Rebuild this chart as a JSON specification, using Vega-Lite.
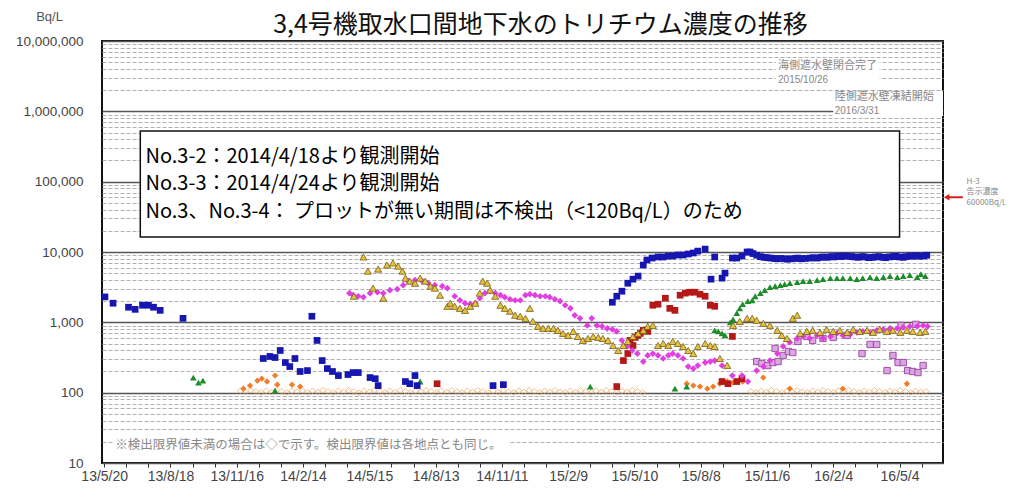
{
  "$schema": "https://vega.github.io/schema/vega-lite/v6.json",
  "width": 841,
  "height": 422,
  "autosize": {"type": "none"},
  "padding": {"left": 102, "top": 41, "right": 83, "bottom": 39},
  "background": "white",
  "config": {"view": {"stroke": "#111", "strokeWidth": 2}, "font": "Liberation Sans"},
  "title": {"text": "3,4号機取水口間地下水のトリチウム濃度の推移", "font": "Noto Sans CJK JP", "fontSize": 25, "fontWeight": "normal", "color": "#111", "anchor": "middle", "frame": "group", "dx": 18, "offset": -48, "baseline": "alphabetic"},
  "datasets": {
    "blue": [
      {"date": "2013/05/21", "value": 2300}, {"date": "2013/06/01", "value": 1870}, {"date": "2013/06/22", "value": 1640}, {"date": "2013/07/01", "value": 1530}, {"date": "2013/07/11", "value": 1750}, {"date": "2013/07/19", "value": 1750}, {"date": "2013/07/26", "value": 1640}, {"date": "2013/08/04", "value": 1480}, {"date": "2013/09/04", "value": 1140},
      {"date": "2013/12/22", "value": 306}, {"date": "2013/12/31", "value": 327}, {"date": "2014/01/07", "value": 316}, {"date": "2014/01/14", "value": 398}, {"date": "2014/01/21", "value": 268}, {"date": "2014/01/27", "value": 235}, {"date": "2014/02/03", "value": 306}, {"date": "2014/02/10", "value": 200}, {"date": "2014/02/20", "value": 206}, {"date": "2014/02/26", "value": 1220}, {"date": "2014/03/05", "value": 553}, {"date": "2014/03/12", "value": 286}, {"date": "2014/03/19", "value": 220}, {"date": "2014/03/26", "value": 200}, {"date": "2014/04/03", "value": 175}, {"date": "2014/04/16", "value": 181}, {"date": "2014/04/23", "value": 193}, {"date": "2014/04/30", "value": 193}, {"date": "2014/05/16", "value": 164}, {"date": "2014/05/23", "value": 158}, {"date": "2014/05/27", "value": 126}, {"date": "2014/07/03", "value": 144}, {"date": "2014/07/09", "value": 134}, {"date": "2014/07/16", "value": 175}, {"date": "2014/07/19", "value": 126}, {"date": "2014/10/30", "value": 126}, {"date": "2014/11/13", "value": 130},
      {"date": "2015/04/10", "value": 1930}, {"date": "2015/04/16", "value": 2350}, {"date": "2015/04/23", "value": 2770}, {"date": "2015/05/01", "value": 3600}, {"date": "2015/05/08", "value": 4110}, {"date": "2015/05/15", "value": 4540}, {"date": "2015/05/22", "value": 6520}, {"date": "2015/05/27", "value": 7690}, {"date": "2015/06/03", "value": 8210}, {"date": "2015/06/11", "value": 8490}, {"date": "2015/06/18", "value": 8490}, {"date": "2015/06/25", "value": 8770}, {"date": "2015/07/01", "value": 8770}, {"date": "2015/07/08", "value": 9060}, {"date": "2015/07/15", "value": 9060}, {"date": "2015/07/22", "value": 9360}, {"date": "2015/07/29", "value": 9680}, {"date": "2015/08/04", "value": 10300}, {"date": "2015/08/14", "value": 11000}, {"date": "2015/08/22", "value": 4110}, {"date": "2015/08/27", "value": 8490}, {"date": "2015/09/06", "value": 4250}, {"date": "2015/09/10", "value": 5010}, {"date": "2015/09/20", "value": 8210}, {"date": "2015/09/26", "value": 8210}, {"date": "2015/10/03", "value": 8770}, {"date": "2015/10/10", "value": 10000},
      {"date": "2015/10/14", "value": 10000}, {"date": "2015/10/18", "value": 9500}, {"date": "2015/10/23", "value": 9000}, {"date": "2015/10/28", "value": 8600}, {"date": "2015/11/02", "value": 8400}, {"date": "2015/11/06", "value": 8300}, {"date": "2015/11/11", "value": 8200}, {"date": "2015/11/16", "value": 8100}, {"date": "2015/11/20", "value": 8000}, {"date": "2015/11/25", "value": 8100}, {"date": "2015/11/30", "value": 8000}, {"date": "2015/12/04", "value": 7900}, {"date": "2015/12/09", "value": 8000}, {"date": "2015/12/14", "value": 8100}, {"date": "2015/12/18", "value": 8200}, {"date": "2015/12/23", "value": 8000}, {"date": "2015/12/28", "value": 8100}, {"date": "2016/01/04", "value": 8200}, {"date": "2016/01/08", "value": 8300}, {"date": "2016/01/13", "value": 8200}, {"date": "2016/01/18", "value": 8400}, {"date": "2016/01/22", "value": 8500}, {"date": "2016/01/27", "value": 8400}, {"date": "2016/02/01", "value": 8600}, {"date": "2016/02/05", "value": 8500}, {"date": "2016/02/10", "value": 8700}, {"date": "2016/02/15", "value": 8600}, {"date": "2016/02/19", "value": 8800}, {"date": "2016/02/24", "value": 8700}, {"date": "2016/02/29", "value": 8600}, {"date": "2016/03/04", "value": 8500}, {"date": "2016/03/09", "value": 8400}, {"date": "2016/03/14", "value": 8600}, {"date": "2016/03/18", "value": 8500}, {"date": "2016/03/23", "value": 8300}, {"date": "2016/03/28", "value": 8400}, {"date": "2016/04/01", "value": 8500}, {"date": "2016/04/06", "value": 8600}, {"date": "2016/04/11", "value": 8400}, {"date": "2016/04/15", "value": 8300}, {"date": "2016/04/20", "value": 8500}, {"date": "2016/04/25", "value": 8600}, {"date": "2016/04/29", "value": 8700}, {"date": "2016/05/04", "value": 8500}, {"date": "2016/05/09", "value": 8400}, {"date": "2016/05/13", "value": 8600}, {"date": "2016/05/18", "value": 8800}, {"date": "2016/05/23", "value": 8700}, {"date": "2016/05/27", "value": 8900}, {"date": "2016/06/01", "value": 8700}, {"date": "2016/06/06", "value": 8800}, {"date": "2016/06/10", "value": 9000}
    ],
    "magenta": [
      {"date": "2014/04/18", "value": 2600}, {"date": "2014/04/23", "value": 2430}, {"date": "2014/04/30", "value": 2350}, {"date": "2014/05/07", "value": 2280}, {"date": "2014/05/16", "value": 2600}, {"date": "2014/05/26", "value": 2680}, {"date": "2014/06/03", "value": 2600}, {"date": "2014/06/12", "value": 2870}, {"date": "2014/06/22", "value": 2960}, {"date": "2014/06/30", "value": 3380}, {"date": "2014/07/07", "value": 3850}, {"date": "2014/07/16", "value": 3980}, {"date": "2014/07/26", "value": 3850}, {"date": "2014/08/03", "value": 3600}, {"date": "2014/08/12", "value": 3380}, {"date": "2014/08/22", "value": 3270}, {"date": "2014/08/29", "value": 3060}, {"date": "2014/09/08", "value": 2350}, {"date": "2014/09/15", "value": 2060}, {"date": "2014/09/22", "value": 1870}, {"date": "2014/09/29", "value": 1810}, {"date": "2014/10/06", "value": 1870}, {"date": "2014/10/12", "value": 2200}, {"date": "2014/10/19", "value": 2600}, {"date": "2014/10/26", "value": 2770}, {"date": "2014/11/02", "value": 2600}, {"date": "2014/11/09", "value": 2430}, {"date": "2014/11/15", "value": 2280}, {"date": "2014/11/22", "value": 2130}, {"date": "2014/11/29", "value": 2060}, {"date": "2014/12/06", "value": 2060}, {"date": "2014/12/13", "value": 2430}, {"date": "2014/12/19", "value": 2510}, {"date": "2014/12/26", "value": 2430}, {"date": "2015/01/02", "value": 2350}, {"date": "2015/01/09", "value": 2350}, {"date": "2015/01/15", "value": 2280}, {"date": "2015/01/22", "value": 2130}, {"date": "2015/01/29", "value": 2000}, {"date": "2015/02/05", "value": 1750}, {"date": "2015/02/12", "value": 1580}, {"date": "2015/02/18", "value": 1260}, {"date": "2015/02/25", "value": 1140}, {"date": "2015/03/07", "value": 905}, {"date": "2015/03/13", "value": 1140}, {"date": "2015/03/20", "value": 905}, {"date": "2015/03/27", "value": 877}, {"date": "2015/04/03", "value": 820}, {"date": "2015/04/10", "value": 794}, {"date": "2015/04/16", "value": 743}, {"date": "2015/04/23", "value": 553}, {"date": "2015/04/30", "value": 454}, {"date": "2015/05/07", "value": 398}, {"date": "2015/05/14", "value": 360}, {"date": "2015/05/22", "value": 277}, {"date": "2015/05/28", "value": 338}, {"date": "2015/06/04", "value": 360}, {"date": "2015/06/11", "value": 338}, {"date": "2015/06/18", "value": 306}, {"date": "2015/06/25", "value": 338}, {"date": "2015/07/01", "value": 360}, {"date": "2015/07/08", "value": 338}, {"date": "2015/07/15", "value": 306}, {"date": "2015/07/22", "value": 235}, {"date": "2015/07/29", "value": 220}, {"date": "2015/08/04", "value": 243}, {"date": "2015/08/14", "value": 268}, {"date": "2015/08/21", "value": 277}, {"date": "2015/08/27", "value": 286}, {"date": "2015/09/06", "value": 243}, {"date": "2015/09/20", "value": 175}, {"date": "2015/10/03", "value": 175}, {"date": "2015/10/11", "value": 144},
      {"date": "2015/10/23", "value": 206}, {"date": "2015/11/01", "value": 235}, {"date": "2015/11/10", "value": 286}, {"date": "2015/11/20", "value": 360}, {"date": "2015/11/28", "value": 454}, {"date": "2015/12/07", "value": 518}, {"date": "2015/12/17", "value": 590}, {"date": "2015/12/25", "value": 630}, {"date": "2016/01/03", "value": 590}, {"date": "2016/01/13", "value": 652}, {"date": "2016/01/21", "value": 590}, {"date": "2016/01/31", "value": 630}, {"date": "2016/02/09", "value": 697}, {"date": "2016/02/17", "value": 652}, {"date": "2016/02/27", "value": 674}, {"date": "2016/03/07", "value": 720}, {"date": "2016/03/15", "value": 743}, {"date": "2016/03/25", "value": 720}, {"date": "2016/04/03", "value": 769}, {"date": "2016/04/12", "value": 794}, {"date": "2016/04/21", "value": 820}, {"date": "2016/05/01", "value": 820}, {"date": "2016/05/09", "value": 849}, {"date": "2016/05/18", "value": 877}, {"date": "2016/05/28", "value": 877}, {"date": "2016/06/05", "value": 905}, {"date": "2016/06/11", "value": 877}
    ],
    "purple": [
      {"date": "2015/10/23", "value": 277}, {"date": "2015/10/30", "value": 260}, {"date": "2015/11/07", "value": 243}, {"date": "2015/11/14", "value": 268}, {"date": "2015/11/17", "value": 425}, {"date": "2015/11/21", "value": 277}, {"date": "2015/11/28", "value": 338}, {"date": "2015/12/05", "value": 385}, {"date": "2015/12/11", "value": 372}, {"date": "2015/12/18", "value": 535}, {"date": "2015/12/30", "value": 630}, {"date": "2016/01/07", "value": 553}, {"date": "2016/01/21", "value": 590}, {"date": "2016/02/04", "value": 610}, {"date": "2016/02/23", "value": 652}, {"date": "2016/03/14", "value": 360}, {"date": "2016/03/25", "value": 485}, {"date": "2016/04/03", "value": 485}, {"date": "2016/04/17", "value": 206}, {"date": "2016/04/25", "value": 338}, {"date": "2016/05/02", "value": 268}, {"date": "2016/05/06", "value": 905}, {"date": "2016/05/09", "value": 268}, {"date": "2016/05/15", "value": 206}, {"date": "2016/05/22", "value": 200}, {"date": "2016/05/26", "value": 936}, {"date": "2016/05/29", "value": 193}, {"date": "2016/06/05", "value": 243}
    ],
    "yellow": [
      {"date": "2014/04/24", "value": 2350}, {"date": "2014/05/07", "value": 8490}, {"date": "2014/05/13", "value": 5350}, {"date": "2014/05/20", "value": 3060}, {"date": "2014/05/27", "value": 5720}, {"date": "2014/06/03", "value": 2200}, {"date": "2014/06/08", "value": 6520}, {"date": "2014/06/16", "value": 6970}, {"date": "2014/06/23", "value": 6310}, {"date": "2014/06/29", "value": 5350}, {"date": "2014/07/03", "value": 4250}, {"date": "2014/07/09", "value": 3850}, {"date": "2014/07/16", "value": 3600}, {"date": "2014/07/23", "value": 4250}, {"date": "2014/07/30", "value": 3850}, {"date": "2014/08/06", "value": 3270}, {"date": "2014/08/12", "value": 3060}, {"date": "2014/08/19", "value": 2430}, {"date": "2014/08/29", "value": 1690}, {"date": "2014/09/02", "value": 1870}, {"date": "2014/09/08", "value": 1690}, {"date": "2014/09/15", "value": 1580}, {"date": "2014/09/22", "value": 1480}, {"date": "2014/09/29", "value": 1690}, {"date": "2014/10/06", "value": 1870}, {"date": "2014/10/12", "value": 2600}, {"date": "2014/10/16", "value": 3850}, {"date": "2014/10/22", "value": 3600}, {"date": "2014/10/26", "value": 2870}, {"date": "2014/11/02", "value": 2350}, {"date": "2014/11/09", "value": 1750}, {"date": "2014/11/15", "value": 1580}, {"date": "2014/11/22", "value": 1440}, {"date": "2014/11/29", "value": 1260}, {"date": "2014/12/06", "value": 1220}, {"date": "2014/12/13", "value": 1140}, {"date": "2014/12/19", "value": 1580}, {"date": "2014/12/23", "value": 1030}, {"date": "2014/12/30", "value": 877}, {"date": "2015/01/06", "value": 820}, {"date": "2015/01/13", "value": 820}, {"date": "2015/01/20", "value": 820}, {"date": "2015/01/26", "value": 769}, {"date": "2015/02/02", "value": 697}, {"date": "2015/02/09", "value": 652}, {"date": "2015/02/16", "value": 743}, {"date": "2015/02/22", "value": 630}, {"date": "2015/03/01", "value": 553}, {"date": "2015/03/08", "value": 590}, {"date": "2015/03/15", "value": 630}, {"date": "2015/03/22", "value": 610}, {"date": "2015/03/28", "value": 590}, {"date": "2015/04/04", "value": 553}, {"date": "2015/04/11", "value": 469}, {"date": "2015/04/18", "value": 398}, {"date": "2015/04/25", "value": 469}, {"date": "2015/05/01", "value": 535}, {"date": "2015/05/08", "value": 630}, {"date": "2015/05/15", "value": 697}, {"date": "2015/05/22", "value": 769}, {"date": "2015/05/28", "value": 877}, {"date": "2015/06/04", "value": 905}, {"date": "2015/06/11", "value": 469}, {"date": "2015/06/18", "value": 501}, {"date": "2015/06/25", "value": 469}, {"date": "2015/07/01", "value": 535}, {"date": "2015/07/08", "value": 501}, {"date": "2015/07/15", "value": 454}, {"date": "2015/07/22", "value": 398}, {"date": "2015/07/29", "value": 360}, {"date": "2015/08/04", "value": 454}, {"date": "2015/08/14", "value": 501}, {"date": "2015/08/21", "value": 469}, {"date": "2015/08/27", "value": 454}, {"date": "2015/09/03", "value": 306}, {"date": "2015/09/13", "value": 243}, {"date": "2015/09/21", "value": 905}, {"date": "2015/09/30", "value": 1030}, {"date": "2015/10/10", "value": 1140}, {"date": "2015/10/17", "value": 1140}, {"date": "2015/10/23", "value": 1070}, {"date": "2015/11/01", "value": 968}, {"date": "2015/11/10", "value": 905}, {"date": "2015/11/20", "value": 769}, {"date": "2015/11/26", "value": 652}, {"date": "2015/12/03", "value": 590}, {"date": "2015/12/11", "value": 1140}, {"date": "2015/12/17", "value": 1260}, {"date": "2015/12/21", "value": 697}, {"date": "2015/12/30", "value": 743}, {"date": "2016/01/07", "value": 769}, {"date": "2016/01/17", "value": 720}, {"date": "2016/01/26", "value": 794}, {"date": "2016/02/04", "value": 743}, {"date": "2016/02/13", "value": 769}, {"date": "2016/02/23", "value": 720}, {"date": "2016/03/02", "value": 794}, {"date": "2016/03/11", "value": 743}, {"date": "2016/03/21", "value": 769}, {"date": "2016/03/29", "value": 720}, {"date": "2016/04/07", "value": 794}, {"date": "2016/04/17", "value": 743}, {"date": "2016/04/25", "value": 769}, {"date": "2016/05/05", "value": 720}, {"date": "2016/05/14", "value": 769}, {"date": "2016/05/22", "value": 743}, {"date": "2016/06/01", "value": 720}, {"date": "2016/06/08", "value": 743}
    ],
    "red": [
      {"date": "2014/08/15", "value": 134}, {"date": "2015/04/16", "value": 122}, {"date": "2015/04/25", "value": 286}, {"date": "2015/05/01", "value": 360}, {"date": "2015/05/04", "value": 553}, {"date": "2015/05/08", "value": 469}, {"date": "2015/05/11", "value": 610}, {"date": "2015/05/15", "value": 652}, {"date": "2015/05/18", "value": 697}, {"date": "2015/05/22", "value": 769}, {"date": "2015/05/28", "value": 743}, {"date": "2015/06/04", "value": 1750}, {"date": "2015/06/11", "value": 1810}, {"date": "2015/06/21", "value": 2200}, {"date": "2015/06/27", "value": 1580}, {"date": "2015/07/04", "value": 1480}, {"date": "2015/07/11", "value": 2430}, {"date": "2015/07/18", "value": 2600}, {"date": "2015/07/24", "value": 2680}, {"date": "2015/07/31", "value": 2680}, {"date": "2015/08/07", "value": 2510}, {"date": "2015/08/14", "value": 2350}, {"date": "2015/08/21", "value": 1750}, {"date": "2015/08/27", "value": 1690}, {"date": "2015/09/06", "value": 144}, {"date": "2015/09/14", "value": 134}, {"date": "2015/09/20", "value": 630}, {"date": "2015/09/26", "value": 144}, {"date": "2015/10/03", "value": 158}
    ],
    "green": [
      {"date": "2013/09/18", "value": 164}, {"date": "2013/09/25", "value": 139}, {"date": "2013/10/01", "value": 148}, {"date": "2014/01/07", "value": 107}, {"date": "2014/07/23", "value": 144}, {"date": "2015/03/11", "value": 122}, {"date": "2015/07/04", "value": 114}, {"date": "2015/07/20", "value": 122},
      {"date": "2015/08/27", "value": 769}, {"date": "2015/09/01", "value": 743}, {"date": "2015/09/06", "value": 697}, {"date": "2015/09/10", "value": 652}, {"date": "2015/09/17", "value": 1000}, {"date": "2015/09/21", "value": 1100}, {"date": "2015/09/26", "value": 1350}, {"date": "2015/09/30", "value": 1580}, {"date": "2015/10/04", "value": 1810}, {"date": "2015/10/11", "value": 2000}, {"date": "2015/10/17", "value": 2060}, {"date": "2015/10/21", "value": 2350}, {"date": "2015/10/28", "value": 2600}, {"date": "2015/11/03", "value": 2870}, {"date": "2015/11/10", "value": 3160}, {"date": "2015/11/17", "value": 3270}, {"date": "2015/11/24", "value": 3380}, {"date": "2015/11/30", "value": 3490}, {"date": "2015/12/07", "value": 3600}, {"date": "2015/12/17", "value": 3730}, {"date": "2015/12/25", "value": 3850}, {"date": "2016/01/03", "value": 3850}, {"date": "2016/01/13", "value": 3980}, {"date": "2016/01/21", "value": 4110}, {"date": "2016/01/31", "value": 4250}, {"date": "2016/02/09", "value": 4250}, {"date": "2016/02/17", "value": 4250}, {"date": "2016/02/27", "value": 4250}, {"date": "2016/03/07", "value": 4110}, {"date": "2016/03/15", "value": 4250}, {"date": "2016/03/25", "value": 4400}, {"date": "2016/04/03", "value": 4250}, {"date": "2016/04/12", "value": 4400}, {"date": "2016/04/21", "value": 4540}, {"date": "2016/05/01", "value": 4400}, {"date": "2016/05/09", "value": 4540}, {"date": "2016/05/18", "value": 4690}, {"date": "2016/05/28", "value": 4400}, {"date": "2016/06/02", "value": 4850}, {"date": "2016/06/08", "value": 4540}
    ],
    "orange": [
      {"date": "2013/11/25", "value": 114}, {"date": "2013/12/04", "value": 126}, {"date": "2013/12/14", "value": 148}, {"date": "2013/12/20", "value": 158}, {"date": "2013/12/27", "value": 144}, {"date": "2014/01/07", "value": 175}, {"date": "2014/01/10", "value": 130}, {"date": "2014/01/30", "value": 130}, {"date": "2014/02/10", "value": 122}, {"date": "2015/07/20", "value": 134}, {"date": "2015/07/29", "value": 126}, {"date": "2015/08/07", "value": 122}, {"date": "2015/08/17", "value": 114}, {"date": "2015/08/25", "value": 122}, {"date": "2015/09/03", "value": 134}, {"date": "2015/09/13", "value": 144}, {"date": "2015/09/21", "value": 139}, {"date": "2015/09/28", "value": 144}, {"date": "2015/10/04", "value": 144}, {"date": "2015/11/01", "value": 164}, {"date": "2015/12/07", "value": 114}, {"date": "2016/02/17", "value": 114}, {"date": "2016/05/14", "value": 134}
    ],
    "nd": [
      {"date": "2013/11/21", "value": 106}, {"date": "2013/11/28", "value": 102}, {"date": "2013/12/05", "value": 108}, {"date": "2013/12/12", "value": 104}, {"date": "2013/12/19", "value": 100}, {"date": "2013/12/26", "value": 106}, {"date": "2014/01/02", "value": 102}, {"date": "2014/01/09", "value": 108}, {"date": "2014/01/16", "value": 104}, {"date": "2014/01/23", "value": 100}, {"date": "2014/01/30", "value": 106}, {"date": "2014/02/06", "value": 103}, {"date": "2014/02/13", "value": 108}, {"date": "2014/02/20", "value": 101}, {"date": "2014/02/27", "value": 106}, {"date": "2014/03/06", "value": 102}, {"date": "2014/03/13", "value": 108}, {"date": "2014/03/20", "value": 104}, {"date": "2014/03/27", "value": 100}, {"date": "2014/04/03", "value": 106}, {"date": "2014/04/10", "value": 102}, {"date": "2014/04/17", "value": 108}, {"date": "2014/04/24", "value": 104}, {"date": "2014/05/01", "value": 99}, {"date": "2014/05/08", "value": 106}, {"date": "2014/05/15", "value": 102}, {"date": "2014/05/22", "value": 108}, {"date": "2014/05/29", "value": 103}, {"date": "2014/06/05", "value": 100}, {"date": "2014/06/12", "value": 106}, {"date": "2014/06/19", "value": 101}, {"date": "2014/06/26", "value": 108}, {"date": "2014/07/03", "value": 104}, {"date": "2014/07/10", "value": 100}, {"date": "2014/07/17", "value": 106}, {"date": "2014/07/24", "value": 102}, {"date": "2014/07/31", "value": 108}, {"date": "2014/08/07", "value": 104}, {"date": "2014/08/14", "value": 100}, {"date": "2014/08/21", "value": 106}, {"date": "2014/08/28", "value": 102}, {"date": "2014/09/04", "value": 108}, {"date": "2014/09/11", "value": 103}, {"date": "2014/09/18", "value": 100}, {"date": "2014/09/25", "value": 106}, {"date": "2014/10/02", "value": 102}, {"date": "2014/10/09", "value": 108}, {"date": "2014/10/16", "value": 104}, {"date": "2014/10/23", "value": 100}, {"date": "2014/10/30", "value": 106}, {"date": "2014/11/06", "value": 102}, {"date": "2014/11/13", "value": 108}, {"date": "2014/11/20", "value": 103}, {"date": "2014/11/27", "value": 100}, {"date": "2014/12/04", "value": 106}, {"date": "2014/12/11", "value": 102}, {"date": "2014/12/18", "value": 108}, {"date": "2014/12/25", "value": 104}, {"date": "2015/01/01", "value": 100}, {"date": "2015/01/08", "value": 106}, {"date": "2015/01/15", "value": 102}, {"date": "2015/01/22", "value": 108}, {"date": "2015/01/29", "value": 103}, {"date": "2015/02/05", "value": 100}, {"date": "2015/02/12", "value": 106}, {"date": "2015/02/19", "value": 102}, {"date": "2015/02/26", "value": 108}, {"date": "2015/03/05", "value": 104}, {"date": "2015/03/12", "value": 100}, {"date": "2015/03/19", "value": 106}, {"date": "2015/03/26", "value": 102}, {"date": "2015/04/02", "value": 108}, {"date": "2015/04/09", "value": 104}, {"date": "2015/04/16", "value": 100}, {"date": "2015/04/23", "value": 106}, {"date": "2015/04/30", "value": 102}, {"date": "2015/05/07", "value": 108}, {"date": "2015/05/14", "value": 104}, {"date": "2015/05/21", "value": 100},
      {"date": "2015/10/15", "value": 104}, {"date": "2015/10/22", "value": 100}, {"date": "2015/10/29", "value": 106}, {"date": "2015/11/05", "value": 102}, {"date": "2015/11/12", "value": 108}, {"date": "2015/11/19", "value": 104}, {"date": "2015/11/26", "value": 100}, {"date": "2015/12/03", "value": 106}, {"date": "2015/12/10", "value": 102}, {"date": "2015/12/17", "value": 108}, {"date": "2015/12/24", "value": 103}, {"date": "2015/12/31", "value": 100}, {"date": "2016/01/07", "value": 106}, {"date": "2016/01/14", "value": 102}, {"date": "2016/01/21", "value": 108}, {"date": "2016/01/28", "value": 104}, {"date": "2016/02/04", "value": 100}, {"date": "2016/02/11", "value": 106}, {"date": "2016/02/18", "value": 102}, {"date": "2016/02/25", "value": 108}, {"date": "2016/03/03", "value": 104}, {"date": "2016/03/10", "value": 100}, {"date": "2016/03/17", "value": 106}, {"date": "2016/03/24", "value": 102}, {"date": "2016/03/31", "value": 108}, {"date": "2016/04/07", "value": 104}, {"date": "2016/04/14", "value": 100}, {"date": "2016/04/21", "value": 106}, {"date": "2016/04/28", "value": 102}, {"date": "2016/05/05", "value": 108}, {"date": "2016/05/12", "value": 104}, {"date": "2016/05/19", "value": 100}, {"date": "2016/05/26", "value": 106}, {"date": "2016/06/02", "value": 102}, {"date": "2016/06/09", "value": 104}
    ],
    "masks": [
      {"date": "2015/11/18", "date2": "2016/04/07", "value": 5550000, "value2": 2370000},
      {"date": "2016/02/04", "date2": "2016/07/02", "value": 1950000, "value2": 860000},
      {"date": "2013/06/01", "date2": "2014/11/20", "value": 22.6, "value2": 14.3}
    ],
    "box": [{"date": "2013/07/08", "date2": "2016/05/04", "value": 526000, "value2": 16300}],
    "boxText": [
      {"date": "2013/07/15", "value": 224000, "label": "No.3-2：2014/4/18より観測開始"},
      {"date": "2013/07/15", "value": 92700, "label": "No.3-3：2014/4/24より観測開始"},
      {"date": "2013/07/15", "value": 37500, "label": "No.3、No.3-4： プロットが無い期間は不検出（<120Bq/L）のため"}
    ],
    "wallText": [
      {"date": "2015/11/21", "value": 4420000, "label": "海側遮水壁閉合完了"},
      {"date": "2016/02/06", "value": 1600000, "label": "陸側遮水壁凍結開始"}
    ],
    "wallDate": [
      {"date": "2015/11/21", "value": 2790000, "label": "2015/10/26"},
      {"date": "2016/02/06", "value": 1010000, "label": "2016/3/31"}
    ],
    "h3Text": [
      {"date": "2016/08/03", "value": 98900, "label": "H-3"},
      {"date": "2016/08/03", "value": 71300, "label": "告示濃度"},
      {"date": "2016/08/03", "value": 49800, "label": "60000Bq/L"}
    ],
    "arrow": [{"date": "2016/07/07", "date2": "2016/07/29", "value": 60000}],
    "note": [{"date": "2013/06/04", "value": 18, "label": "※検出限界値未満の場合は◇で示す。検出限界値は各地点とも同じ。"}]
  },
  "encoding": {
    "x": {
      "field": "date", "type": "temporal",
      "scale": {"domain": [{"year": 2013, "month": 5, "date": 17}, {"year": 2016, "month": 7, "date": 2}]},
      "axis": {
        "title": null, "grid": false, "domain": false,
        "values": [{"year": 2013, "month": 5, "date": 20}, {"year": 2013, "month": 6, "date": 19}, {"year": 2013, "month": 7, "date": 19}, {"year": 2013, "month": 8, "date": 18}, {"year": 2013, "month": 9, "date": 17}, {"year": 2013, "month": 10, "date": 17}, {"year": 2013, "month": 11, "date": 16}, {"year": 2013, "month": 12, "date": 16}, {"year": 2014, "month": 1, "date": 15}, {"year": 2014, "month": 2, "date": 14}, {"year": 2014, "month": 3, "date": 16}, {"year": 2014, "month": 4, "date": 15}, {"year": 2014, "month": 5, "date": 15}, {"year": 2014, "month": 6, "date": 14}, {"year": 2014, "month": 7, "date": 14}, {"year": 2014, "month": 8, "date": 13}, {"year": 2014, "month": 9, "date": 12}, {"year": 2014, "month": 10, "date": 12}, {"year": 2014, "month": 11, "date": 11}, {"year": 2014, "month": 12, "date": 11}, {"year": 2015, "month": 1, "date": 10}, {"year": 2015, "month": 2, "date": 9}, {"year": 2015, "month": 3, "date": 11}, {"year": 2015, "month": 4, "date": 10}, {"year": 2015, "month": 5, "date": 10}, {"year": 2015, "month": 6, "date": 9}, {"year": 2015, "month": 7, "date": 9}, {"year": 2015, "month": 8, "date": 8}, {"year": 2015, "month": 9, "date": 7}, {"year": 2015, "month": 10, "date": 7}, {"year": 2015, "month": 11, "date": 6}, {"year": 2015, "month": 12, "date": 6}, {"year": 2016, "month": 1, "date": 5}, {"year": 2016, "month": 2, "date": 4}, {"year": 2016, "month": 3, "date": 5}, {"year": 2016, "month": 4, "date": 4}, {"year": 2016, "month": 5, "date": 4}, {"year": 2016, "month": 6, "date": 3}],
        "labelExpr": "indexof(['13/5/20','13/8/18','13/11/16','14/2/14','14/5/15','14/8/13','14/11/11','15/2/9','15/5/10','15/8/8','15/11/6','16/2/4','16/5/4'], timeFormat(datum.value, '%y/%-m/%-d')) >= 0 ? timeFormat(datum.value, '%y/%-m/%-d') : ''",
        "labelOverlap": false, "labelFlush": false,
        "tickSize": 4, "tickColor": "#333", "labelPadding": 2,
        "labelFont": "Liberation Sans", "labelFontSize": 14, "labelColor": "#444"
      }
    },
    "y": {
      "field": "value", "type": "quantitative",
      "scale": {"type": "log", "domain": [10, 10000000], "nice": false},
      "axis": {
        "values": [10, 20, 30, 40, 50, 60, 70, 80, 90, 100, 200, 300, 400, 500, 600, 700, 800, 900, 1000, 2000, 3000, 4000, 5000, 6000, 7000, 8000, 9000, 10000, 20000, 30000, 40000, 50000, 60000, 70000, 80000, 90000, 100000, 200000, 300000, 400000, 500000, 600000, 700000, 800000, 900000, 1000000, 2000000, 3000000, 4000000, 5000000, 6000000, 7000000, 8000000, 9000000, 10000000],
        "labelExpr": "indexof([10,100,1000,10000,100000,1000000,10000000], datum.value) >= 0 ? format(datum.value, ',') : ''",
        "labelOverlap": false,
        "grid": true,
        "gridColor": {"condition": {"test": "indexof([10,100,1000,10000,100000,1000000,10000000], datum.value) >= 0", "value": "#555"}, "value": "#b0b0b0"},
        "gridWidth": {"condition": {"test": "indexof([10,100,1000,10000,100000,1000000,10000000], datum.value) >= 0", "value": 1.5}, "value": 1},
        "gridDash": {"condition": {"test": "indexof([10,100,1000,10000,100000,1000000,10000000], datum.value) >= 0", "value": []}, "value": [4, 2]},
        "ticks": false, "domain": false, "labelPadding": 19,
        "labelFont": "Liberation Sans", "labelFontSize": 13.5, "labelColor": "#444",
        "title": "Bq/L", "titleAngle": 0, "titleX": -53, "titleY": -25, "titleAlign": "center", "titleBaseline": "middle",
        "titleFont": "Liberation Sans", "titleFontSize": 13, "titleFontWeight": "normal", "titleColor": "#555"
      }
    }
  },
  "layer": [
    {"data": {"name": "masks"}, "mark": {"type": "rect", "fill": "white"}, "encoding": {"x2": {"field": "date2"}, "y2": {"field": "value2"}}},
    {"data": {"name": "box"}, "mark": {"type": "rect", "fill": "white", "stroke": "#111", "strokeWidth": 1.5}, "encoding": {"x2": {"field": "date2"}, "y2": {"field": "value2"}}},
    {"data": {"name": "nd"}, "mark": {"type": "point", "shape": "diamond", "filled": false, "stroke": "#F5A55A", "strokeWidth": 1, "size": 35}},
    {"data": {"name": "orange"}, "mark": {"type": "point", "shape": "diamond", "filled": true, "color": "#F07C2C", "opacity": 1, "size": 40}},
    {"data": {"name": "green"}, "mark": {"type": "point", "shape": "triangle-up", "filled": true, "color": "#1E8C2A", "opacity": 1, "size": 45}},
    {"data": {"name": "red"}, "mark": {"type": "point", "shape": "square", "filled": true, "color": "#B51818", "opacity": 1, "size": 45}},
    {"data": {"name": "purple"}, "mark": {"type": "point", "shape": "square", "filled": true, "fill": "#D9A6DF", "stroke": "#A050A8", "strokeWidth": 1, "opacity": 1, "size": 40}},
    {"data": {"name": "magenta"}, "mark": {"type": "point", "shape": "diamond", "filled": true, "color": "#E23FE2", "opacity": 1, "size": 45}},
    {"data": {"name": "yellow"}, "mark": {"type": "point", "shape": "triangle-up", "filled": true, "fill": "#E3C440", "stroke": "#7A5A18", "strokeWidth": 0.8, "opacity": 1, "size": 50}},
    {"data": {"name": "blue"}, "mark": {"type": "point", "shape": "square", "filled": true, "color": "#1616B0", "opacity": 1, "size": 45}},
    {"data": {"name": "boxText"}, "mark": {"type": "text", "align": "left", "baseline": "middle", "font": "Noto Sans CJK JP", "fontSize": 20, "color": "#000"}, "encoding": {"text": {"field": "label"}}},
    {"data": {"name": "wallText"}, "mark": {"type": "text", "align": "left", "baseline": "middle", "font": "Noto Sans CJK JP", "fontSize": 11, "color": "#888"}, "encoding": {"text": {"field": "label"}}},
    {"data": {"name": "wallDate"}, "mark": {"type": "text", "align": "left", "baseline": "middle", "font": "Liberation Sans", "fontSize": 10, "color": "#888"}, "encoding": {"text": {"field": "label"}}},
    {"data": {"name": "h3Text"}, "mark": {"type": "text", "align": "left", "baseline": "middle", "font": "Noto Sans CJK JP", "fontSize": 8, "color": "#888"}, "encoding": {"text": {"field": "label"}}},
    {"data": {"name": "arrow"}, "mark": {"type": "rule", "color": "#D42020", "strokeWidth": 2}, "encoding": {"x2": {"field": "date2"}}},
    {"data": {"name": "arrow"}, "mark": {"type": "point", "shape": "triangle-left", "filled": true, "color": "#D42020", "opacity": 1, "size": 40}},
    {"data": {"name": "note"}, "mark": {"type": "text", "align": "left", "baseline": "middle", "font": "Noto Sans CJK JP", "fontSize": 12.5, "color": "#888"}, "encoding": {"text": {"field": "label"}}}
  ]
}
